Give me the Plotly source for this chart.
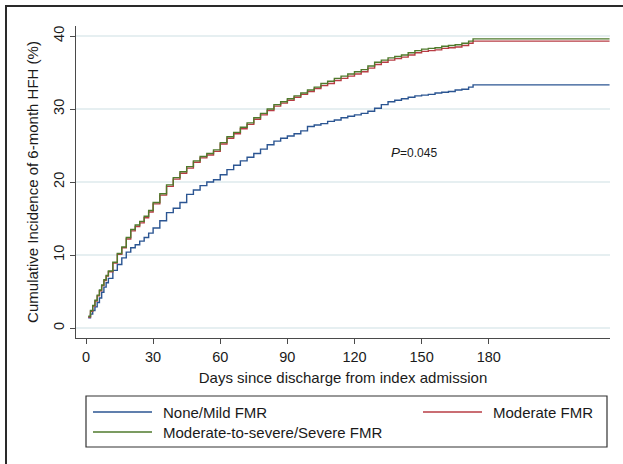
import plotly.graph_objects as go

# ---- data ----
days = [1, 2, 3, 4, 5, 6, 7, 8, 9, 10, 12, 14, 16, 18, 20, 22, 24, 26, 28, 30,
        33, 36, 39, 42, 45, 48, 51, 54, 57, 60, 63, 66, 69, 72, 75, 78, 81, 84,
        87, 90, 93, 96, 99, 102, 105, 108, 111, 114, 117, 120, 123, 126, 129,
        132, 135, 138, 141, 144, 147, 150, 153, 156, 159, 162, 165, 168, 171,
        173, 234]

none_mild = [1.4, 1.9, 2.4, 2.9, 3.5, 4.1, 4.9, 5.6, 6.2, 6.8, 7.9, 8.7, 9.6,
             10.4, 11.0, 11.4, 11.9, 12.4, 13.0, 13.7, 14.7, 15.8, 16.4, 17.2,
             18.3, 18.9, 19.5, 20.0, 20.3, 21.0, 21.7, 22.3, 22.9, 23.4, 23.9,
             24.5, 25.1, 25.6, 26.0, 26.3, 26.6, 27.0, 27.6, 27.8, 28.0, 28.3,
             28.5, 28.8, 29.0, 29.2, 29.4, 29.7, 30.1, 30.6, 31.0, 31.2, 31.4,
             31.6, 31.8, 31.9, 32.0, 32.2, 32.3, 32.4, 32.6, 32.7, 33.0, 33.3,
             33.3]

moderate = [1.5, 2.3, 3.0, 3.7, 4.4, 5.1, 5.8, 6.5, 7.1, 7.7, 8.9, 10.1, 11.0,
            12.2, 13.3, 13.9, 14.4, 15.1, 15.9, 17.0, 18.2, 19.4, 20.4, 21.2,
            21.9, 22.7, 23.3, 23.7, 24.2, 25.2, 26.0, 26.6, 27.3, 27.9, 28.6,
            29.2, 29.8, 30.4, 30.8, 31.2, 31.6, 32.0, 32.4, 32.8, 33.2, 33.5,
            33.9, 34.2, 34.5, 34.8, 35.1, 35.6, 36.1, 36.4, 36.7, 36.9, 37.1,
            37.4, 37.7, 37.9, 38.0, 38.1, 38.3, 38.4, 38.5, 38.7, 39.0, 39.3,
            39.3]

mod_severe = [1.6, 2.4, 3.1, 3.8, 4.5, 5.2, 5.9, 6.6, 7.2, 7.8, 9.0, 10.2, 11.1,
              12.4, 13.5, 14.1, 14.6, 15.3, 16.1, 17.2, 18.4, 19.6, 20.6, 21.4,
              22.1, 22.9, 23.5, 23.9, 24.4, 25.4, 26.2, 26.8, 27.5, 28.1, 28.8,
              29.4, 30.0, 30.6, 31.0, 31.4, 31.8, 32.2, 32.6, 33.0, 33.5, 33.8,
              34.2, 34.5, 34.8, 35.1, 35.4, 35.9, 36.4, 36.7, 37.0, 37.2, 37.4,
              37.7, 38.0, 38.2, 38.3, 38.4, 38.6, 38.7, 38.8, 39.0, 39.3, 39.6,
              39.6]

series_names = ["None/Mild FMR", "Moderate FMR", "Moderate-to-severe/Severe FMR"]
series_colors = ["#2b5592", "#b83c44", "#4f7a2c"]
x_ticks = [0, 30, 60, 90, 120, 150, 180]
y_ticks = [0, 10, 20, 30, 40]
p_text = "=0.045"

# ---- layout geometry (pixels) ----
W, H = 623, 464
L, R, T, B = 76, 13, 26, 126
pw, ph = W - L - R, H - T - B


def px(xp):
    return (xp - L) / pw


def py(yp):
    return (H - B - yp) / ph


FONT = "Liberation Sans, Arial, Helvetica, sans-serif"
AX = "#4a4a4a"

fig = go.Figure()
for vals, name, col in zip([none_mild, moderate, mod_severe], series_names, series_colors):
    fig.add_trace(go.Scatter(x=days, y=vals, mode="lines", name=name,
                             line=dict(color=col, width=1.4, shape="hv"),
                             showlegend=False))

fig.update_layout(
    width=W, height=H,
    margin=dict(l=L, r=R, t=T, b=B, autoexpand=False),
    paper_bgcolor="white", plot_bgcolor="white",
    font=dict(family=FONT, size=14.5, color="#1a1a1a"),
)
fig.update_xaxes(
    range=[-4.47, 234.2], tickvals=x_ticks, showgrid=False, zeroline=False,
    showline=True, linecolor=AX, linewidth=1.3, ticks="outside", ticklen=5,
    tickcolor=AX, tickwidth=1.2,
    title=dict(text="Days since discharge from index admission",
               font=dict(size=15), standoff=8),
)
fig.update_yaxes(
    range=[-1.37, 41.37], tickvals=y_ticks, tickangle=-90, showgrid=True,
    gridcolor="#e6eff1", gridwidth=1.5, zeroline=False,
    showline=True, linecolor=AX, linewidth=1.3, ticks="outside", ticklen=5,
    tickcolor=AX, tickwidth=1.2,
    title=dict(text="Cumulative Incidence of 6-month HFH (%)",
               font=dict(size=15), standoff=8),
)

# P value annotation
fig.add_annotation(x=146.5, y=24.1, xref="x", yref="y", showarrow=False,
                   text="<i>P</i><span style='font-size:12px'>" + p_text + "</span>",
                   font=dict(size=13.5, color="#1a1a1a"))

# outer frame
fig.add_shape(type="rect", xref="paper", yref="paper",
              x0=px(6), x1=px(640), y0=py(6), y1=py(480),
              line=dict(color="#2a2a2a", width=2), layer="above")

# legend box (manual, Stata style)
fig.add_shape(type="rect", xref="paper", yref="paper",
              x0=px(86), x1=px(607), y0=py(447), y1=py(396),
              line=dict(color="#333333", width=1.2))
legend_pos = [(93, 412), (423, 412), (93, 432)]
for (lx, ly), name, col in zip(legend_pos, series_names, series_colors):
    fig.add_shape(type="line", xref="paper", yref="paper",
                  x0=px(lx), x1=px(lx + 59), y0=py(ly), y1=py(ly),
                  line=dict(color=col, width=1.3))
    fig.add_annotation(x=px(lx + 68), y=py(ly), xref="paper", yref="paper",
                       xanchor="left", yanchor="middle", showarrow=False,
                       text=name, font=dict(size=15, color="#1a1a1a"))

fig.write_html("out.html",
               config={"displayModeBar": False},
               post_script="document.body.style.margin='0';"
                           "document.body.style.overflow='hidden';")
